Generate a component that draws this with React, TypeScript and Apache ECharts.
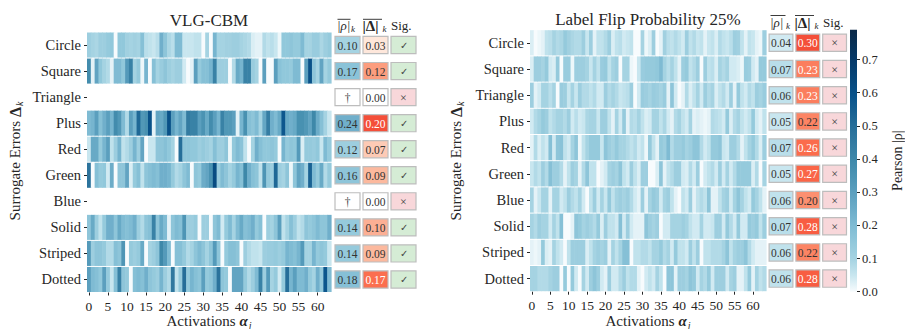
import React, { useEffect, useRef } from 'react';
import * as echarts from 'echarts';

// ---------- categories ----------
const ROWS = ['Circle', 'Square', 'Triangle', 'Plus', 'Red', 'Green', 'Blue', 'Solid', 'Striped', 'Dotted'];
const ACTIVATIONS = Array.from({ length: 64 }, (_, i) => String(i));
const CB_TICKS = [0, 0.1, 0.2, 0.3, 0.4, 0.5, 0.6, 0.7];
const CB_MAX = 0.79;

// ---------- VLG-CBM |rho| per activation ----------
const L_CIRCLE = [0.12,0.10,0.09,0.12,0.12,0.14,0.15,0.00,0.15,0.15, 0.11,0.10,0.11,0.10,0.18,0.07,0.06,0.05,0.07,0.24, 0.16,0.09,0.07,0.20,0.20,0.05,0.05,0.05,0.06,0.06, 0.00,0.10,0.00,0.22,0.10,0.10,0.11,0.11,0.12,0.12, 0.10,0.09,0.08,0.03,0.02,0.02,0.08,0.06,0.07,0.05, 0.01,0.15,0.15,0.16,0.14,0.14,0.20,0.10,0.10,0.13, 0.13,0.09,0.12,0.14];
const L_SQUARE = [0.38,0.02,0.28,0.15,0.10,0.08,0.02,0.20,0.20,0.15, 0.32,0.42,0.10,0.14,0.01,0.22,0.00,0.18,0.10,0.13, 0.16,0.12,0.10,0.12,0.12,0.04,0.00,0.02,0.30,0.14, 0.18,0.18,0.22,0.42,0.12,0.12,0.12,0.00,0.08,0.26, 0.22,0.42,0.42,0.13,0.10,0.00,0.30,0.00,0.00,0.30, 0.17,0.15,0.15,0.14,0.20,0.20,0.00,0.30,0.60,0.16, 0.10,0.28,0.10,0.14];
const L_TRIANGLE = null;
const L_PLUS = [0.20,0.22,0.30,0.18,0.24,0.30,0.22,0.38,0.33,0.20, 0.08,0.30,0.22,0.52,0.33,0.36,0.60,0.02,0.28,0.26, 0.33,0.60,0.30,0.22,0.28,0.20,0.45,0.42,0.42,0.30, 0.35,0.26,0.38,0.30,0.22,0.42,0.33,0.33,0.30,0.02, 0.22,0.36,0.18,0.16,0.20,0.10,0.27,0.44,0.24,0.20, 0.26,0.58,0.26,0.24,0.26,0.36,0.36,0.33,0.28,0.40, 0.25,0.18,0.10,0.05];
const L_RED = [0.05,0.26,0.26,0.14,0.22,0.30,0.06,0.12,0.22,0.06, 0.08,0.12,0.22,0.12,0.28,0.00,0.05,0.05,0.16,0.16, 0.18,0.15,0.10,0.00,0.50,0.16,0.16,0.15,0.15,0.12, 0.14,0.12,0.10,0.18,0.12,0.12,0.16,0.01,0.15,0.20, 0.17,0.06,0.00,0.10,0.24,0.18,0.15,0.15,0.16,0.14, 0.00,0.22,0.14,0.16,0.15,0.32,0.03,0.14,0.14,0.13, 0.15,0.05,0.20,0.14];
const L_GREEN = [0.48,0.00,0.18,0.14,0.15,0.04,0.25,0.00,0.16,0.16, 0.28,0.03,0.14,0.18,0.06,0.16,0.18,0.20,0.18,0.24, 0.24,0.22,0.14,0.08,0.10,0.16,0.20,0.00,0.16,0.14, 0.25,0.28,0.35,0.62,0.13,0.20,0.16,0.10,0.14,0.22, 0.18,0.40,0.24,0.18,0.16,0.06,0.34,0.14,0.12,0.52, 0.12,0.10,0.16,0.01,0.16,0.28,0.24,0.10,0.54,0.20, 0.14,0.26,0.08,0.14];
const L_BLUE = null;
const L_SOLID = [0.16,0.26,0.12,0.06,0.14,0.24,0.24,0.16,0.26,0.20, 0.18,0.20,0.24,0.12,0.08,0.16,0.18,0.42,0.16,0.26, 0.20,0.02,0.16,0.20,0.18,0.34,0.12,0.12,0.14,0.00, 0.12,0.12,0.00,0.16,0.20,0.04,0.14,0.20,0.10,0.20, 0.26,0.18,0.20,0.24,0.14,0.18,0.00,0.12,0.10,0.16, 0.30,0.06,0.10,0.18,0.12,0.06,0.08,0.16,0.14,0.16, 0.20,0.16,0.16,0.24];
const L_STRIPED = [0.32,0.12,0.16,0.16,0.14,0.08,0.08,0.18,0.16,0.34, 0.00,0.14,0.12,0.14,0.26,0.00,0.10,0.12,0.16,0.40, 0.32,0.20,0.00,0.18,0.18,0.14,0.08,0.10,0.16,0.20, 0.16,0.10,0.16,0.32,0.16,0.00,0.14,0.18,0.18,0.16, 0.00,0.12,0.08,0.06,0.06,0.05,0.12,0.13,0.13,0.14, 0.12,0.14,0.22,0.20,0.18,0.22,0.32,0.10,0.10,0.22, 0.14,0.16,0.14,0.05];
const L_DOTTED = [0.30,0.20,0.18,0.15,0.30,0.14,0.05,0.18,0.42,0.16, 0.14,0.00,0.18,0.20,0.18,0.24,0.16,0.14,0.12,0.22, 0.12,0.08,0.46,0.06,0.14,0.50,0.14,0.22,0.18,0.16, 0.30,0.14,0.16,0.24,0.48,0.16,0.14,0.00,0.28,0.28, 0.28,0.14,0.08,0.12,0.20,0.42,0.12,0.32,0.10,0.14, 0.04,0.14,0.50,0.22,0.30,0.20,0.20,0.24,0.14,0.10, 0.24,0.14,0.58,0.20];
const LEFT_ROWS = [L_CIRCLE, L_SQUARE, L_TRIANGLE, L_PLUS, L_RED, L_GREEN, L_BLUE, L_SOLID, L_STRIPED, L_DOTTED];

// ---------- Label Flip 25% |rho| per activation ----------
const R_CIRCLE = [0.03,0.00,0.01,0.02,0.06,0.07,0.10,0.08,0.09,0.14, 0.11,0.09,0.08,0.08,0.12,0.05,0.12,0.02,0.06,0.06, 0.08,0.12,0.03,0.06,0.07,0.04,0.05,0.06,0.00,0.00, 0.10,0.01,0.03,0.12,0.00,0.02,0.11,0.07,0.06,0.08, 0.06,0.04,0.12,0.06,0.08,0.05,0.06,0.02,0.05,0.06, 0.03,0.08,0.06,0.05,0.07,0.12,0.11,0.06,0.02,0.06, 0.05,0.02,0.01,0.12];
const R_SQUARE = [0.03,0.12,0.12,0.10,0.14,0.04,0.03,0.14,0.00,0.13, 0.13,0.01,0.12,0.12,0.12,0.10,0.05,0.10,0.06,0.13, 0.14,0.06,0.10,0.12,0.00,0.10,0.10,0.01,0.00,0.05, 0.13,0.14,0.14,0.14,0.15,0.20,0.10,0.07,0.10,0.06, 0.02,0.12,0.14,0.06,0.08,0.12,0.00,0.12,0.06,0.07, 0.03,0.10,0.08,0.10,0.04,0.04,0.03,0.01,0.13,0.12, 0.04,0.02,0.14,0.14];
const R_TRIANGLE = [0.12,0.02,0.04,0.10,0.10,0.07,0.10,0.00,0.13,0.12, 0.05,0.10,0.05,0.12,0.08,0.08,0.06,0.08,0.04,0.04, 0.12,0.08,0.10,0.08,0.05,0.06,0.07,0.12,0.00,0.04, 0.13,0.12,0.10,0.13,0.12,0.10,0.13,0.02,0.16,0.04, 0.00,0.02,0.08,0.03,0.06,0.10,0.04,0.12,0.08,0.10, 0.03,0.06,0.08,0.04,0.12,0.02,0.14,0.06,0.04,0.08, 0.06,0.12,0.10,0.13];
const R_PLUS = [0.04,0.08,0.10,0.14,0.12,0.06,0.08,0.10,0.10,0.08, 0.12,0.04,0.07,0.04,0.05,0.09,0.10,0.10,0.05,0.12, 0.12,0.06,0.02,0.10,0.04,0.14,0.02,0.08,0.07,0.10, 0.06,0.03,0.04,0.10,0.10,0.06,0.09,0.04,0.02,0.08, 0.10,0.06,0.04,0.10,0.02,0.03,0.02,0.01,0.02,0.08, 0.07,0.06,0.04,0.14,0.03,0.08,0.10,0.06,0.04,0.06, 0.14,0.04,0.02,0.06];
const R_RED = [0.02,0.08,0.03,0.06,0.04,0.18,0.04,0.16,0.17,0.06, 0.04,0.10,0.16,0.01,0.06,0.10,0.14,0.14,0.14,0.05, 0.16,0.12,0.10,0.14,0.10,0.10,0.08,0.06,0.08,0.04, 0.06,0.01,0.14,0.06,0.02,0.14,0.12,0.20,0.08,0.12, 0.12,0.14,0.10,0.12,0.16,0.16,0.08,0.04,0.06,0.14, 0.14,0.16,0.05,0.04,0.12,0.12,0.08,0.02,0.06,0.10, 0.14,0.08,0.03,0.12];
const R_GREEN = [0.05,0.08,0.06,0.12,0.08,0.18,0.12,0.12,0.08,0.02, 0.06,0.12,0.10,0.02,0.08,0.16,0.06,0.06,0.00,0.02, 0.04,0.10,0.12,0.10,0.16,0.06,0.04,0.12,0.06,0.03, 0.12,0.12,0.00,0.00,0.03,0.16,0.02,0.06,0.08,0.12, 0.12,0.04,0.03,0.08,0.04,0.12,0.00,0.04,0.06,0.08, 0.04,0.12,0.04,0.10,0.04,0.08,0.14,0.14,0.14,0.14, 0.03,0.08,0.00,0.10];
const R_BLUE = [0.10,0.02,0.05,0.10,0.10,0.02,0.10,0.10,0.04,0.06, 0.12,0.08,0.06,0.10,0.04,0.00,0.06,0.12,0.04,0.10, 0.05,0.14,0.06,0.10,0.12,0.10,0.12,0.08,0.04,0.02, 0.12,0.02,0.10,0.14,0.12,0.04,0.10,0.12,0.06,0.02, 0.00,0.06,0.04,0.12,0.02,0.06,0.08,0.06,0.16,0.02, 0.02,0.06,0.10,0.12,0.04,0.10,0.16,0.10,0.06,0.04, 0.14,0.10,0.06,0.02];
const R_SOLID = [0.10,0.08,0.12,0.10,0.10,0.04,0.10,0.06,0.18,0.00, 0.00,0.02,0.16,0.14,0.10,0.12,0.10,0.08,0.14,0.03, 0.12,0.06,0.06,0.04,0.18,0.04,0.12,0.04,0.02,0.02, 0.02,0.16,0.12,0.10,0.12,0.00,0.04,0.04,0.10,0.10, 0.10,0.12,0.10,0.06,0.04,0.04,0.10,0.04,0.04,0.05, 0.12,0.12,0.04,0.14,0.08,0.04,0.14,0.04,0.04,0.14, 0.12,0.14,0.06,0.12];
const R_STRIPED = [0.02,0.01,0.02,0.14,0.03,0.02,0.10,0.06,0.04,0.00, 0.06,0.12,0.12,0.12,0.12,0.03,0.06,0.10,0.12,0.10, 0.12,0.02,0.10,0.06,0.10,0.18,0.18,0.00,0.06,0.06, 0.08,0.08,0.06,0.10,0.10,0.14,0.08,0.10,0.04,0.14, 0.06,0.06,0.04,0.12,0.06,0.12,0.00,0.06,0.06,0.08, 0.08,0.08,0.10,0.16,0.06,0.10,0.12,0.12,0.16,0.08, 0.04,0.02,0.02,0.02];
const R_DOTTED = [0.10,0.10,0.08,0.08,0.08,0.10,0.12,0.12,0.00,0.14, 0.00,0.14,0.04,0.00,0.10,0.04,0.12,0.16,0.12,0.04, 0.02,0.12,0.04,0.04,0.08,0.12,0.06,0.08,0.08,0.02, 0.00,0.04,0.06,0.04,0.10,0.06,0.00,0.16,0.16,0.02, 0.12,0.12,0.10,0.16,0.14,0.04,0.10,0.08,0.14,0.04, 0.12,0.12,0.12,0.04,0.10,0.12,0.02,0.02,0.06,0.14, 0.02,0.10,0.06,0.08];
const RIGHT_ROWS = [R_CIRCLE, R_SQUARE, R_TRIANGLE, R_PLUS, R_RED, R_GREEN, R_BLUE, R_SOLID, R_STRIPED, R_DOTTED];

// ---------- summary columns ----------
const L_RHO_MEAN = [0.10, 0.17, null, 0.24, 0.12, 0.16, null, 0.14, 0.14, 0.18];
const L_DELTA_MEAN = [0.03, 0.12, 0.00, 0.20, 0.07, 0.09, 0.00, 0.10, 0.09, 0.17];
const L_SIG = [1, 1, 0, 1, 1, 1, 0, 1, 1, 1];
const R_RHO_MEAN = [0.04, 0.07, 0.06, 0.05, 0.07, 0.05, 0.06, 0.07, 0.06, 0.06];
const R_DELTA_MEAN = [0.30, 0.23, 0.23, 0.22, 0.26, 0.27, 0.20, 0.28, 0.22, 0.28];
const R_SIG = [0, 0, 0, 0, 0, 0, 0, 0, 0, 0];

// ---------- styles ----------
const FONT = "'Liberation Serif', 'DejaVu Serif', serif";
const TXT = '#262626';
const BLUES = ['#f7fbfd','#c8e6ef','#a5d3e2','#92c8db','#80bcd4','#6dadc9','#5ca0bf','#4c94b4','#3f89aa','#347ca2','#28709a','#186192','#09538b','#07477a','#063b6b','#083259','#0b2947'];
const REDS = ['#fff5f0','#fee0d2','#fcbba1','#fc9272','#fb6a4a','#ef3b2c','#cb181d','#a50f15','#67000d'];

function heatData(rows: (number[] | null)[]) {
  const d: number[][] = [];
  rows.forEach((row, r) => {
    if (!row) return;
    row.forEach((v, c) => d.push([c, r, v]));
  });
  return d;
}

const heatRender = (_p: any, api: any) => {
  const p = api.coord([api.value(0), api.value(1)]);
  const s = api.size([1, 1]);
  return {
    type: 'rect',
    shape: { x: p[0] - s[0] / 2, y: p[1] - s[1] / 2 + 0.5, width: s[0] + 0.6, height: s[1] - 1 },
    style: { fill: api.visual('color') },
  };
};

function cellBox(api: any) {
  const p = api.coord([api.value(0), api.value(1)]);
  const s = api.size([1, 1]);
  const w = s[0] - 3;
  const h = s[1] * 0.66;
  return { x: p[0] - w / 2, y: p[1] - h / 2, w, h, cx: p[0], cy: p[1] };
}

function cell(b: any, fill: string, text: string, color: string, size = 11.5) {
  return {
    type: 'group',
    children: [
      { type: 'rect', shape: { x: b.x, y: b.y, width: b.w, height: b.h }, style: { fill, stroke: '#bdbdbd', lineWidth: 1.2 } },
      { type: 'text', style: { text, x: b.cx, y: b.cy + 0.5, align: 'center', verticalAlign: 'middle', fill: color, fontSize: size, fontFamily: FONT } },
    ],
  };
}

const rhoRender = (src: (number | null)[]) => (params: any, api: any) => {
  const b = cellBox(api);
  const raw = src[params.dataIndex];
  if (raw === null) return cell(b, '#ffffff', '†', '#444');
  return cell(b, api.visual('color'), raw.toFixed(2), '#333');
};
const deltaRender = (src: number[], vmax: number) => (params: any, api: any) => {
  const b = cellBox(api);
  const v = src[params.dataIndex];
  return cell(b, v === 0 ? '#ffffff' : api.visual('color'), v.toFixed(2), v / vmax > 0.43 ? '#ffffff' : '#333');
};
const sigRender = (src: number[]) => (params: any, api: any) => {
  const b = cellBox(api);
  const v = src[params.dataIndex];
  return cell(b, v ? '#d5ecd5' : '#f8d7da', v ? '✓' : '×', '#444', v ? 10 : 12);
};

const L_DMAX = Math.max(...L_DELTA_MEAN) * 1.75;
const R_DMAX = Math.max(...R_DELTA_MEAN) * 1.75;

function header(xr: number, xd: number, xs: number, yc: number, ol: number, wr: number, wd: number) {
  const t = (text: string, x: number, y: number, extra: any = {}) => ({
    type: 'text', x, y, style: { text, fill: TXT, fontFamily: FONT, fontSize: 13, align: 'left', verticalAlign: 'middle', ...extra },
  });
  const line = (x1: number, x2: number) => ({ type: 'line', shape: { x1, y1: ol, x2, y2: ol }, style: { stroke: TXT, lineWidth: 0.9 } });
  return [
    t('|ρ|', xr, yc, { fontStyle: 'italic' }),
    line(xr + 0.5, xr + wr),
    t('k', xr + wr + 0.5, yc + 3.5, { fontStyle: 'italic', fontSize: 9 }),
    t('|Δ|', xd, yc, { fontWeight: 'bold', fontSize: 15 }),
    line(xd + 0.5, xd + wd),
    t('k', xd + wd + 0.5, yc + 3.5, { fontStyle: 'italic', fontSize: 9 }),
    t('Sig.', xs, yc, {}),
  ];
}

function yTitle(x: number) {
  return {
    type: 'text', x, y: 161, rotation: Math.PI / 2,
    style: {
      text: 'Surrogate Errors {d|Δ}{k|k}', align: 'center', verticalAlign: 'middle', fill: TXT, fontFamily: FONT, fontSize: 15,
      rich: {
        d: { fontWeight: 'bold', fontSize: 16, fontFamily: FONT, fill: TXT },
        k: { fontStyle: 'italic', fontSize: 10, fontFamily: FONT, fill: TXT, padding: [8, 0, 0, 1] },
      },
    },
  };
}
function xTitle(x: number) {
  return {
    type: 'text', x, y: 321,
    style: {
      text: 'Activations {a|α}{j|j}', align: 'center', verticalAlign: 'middle', fill: TXT, fontFamily: FONT, fontSize: 15,
      rich: {
        a: { fontWeight: 'bold', fontStyle: 'italic', fontSize: 15, fontFamily: FONT, fill: TXT },
        j: { fontStyle: 'italic', fontSize: 10, fontFamily: FONT, fill: TXT, padding: [8, 0, 0, 1] },
      },
    },
  };
}

const heatXAxis = (gridIndex: number) => ({
  type: 'category', gridIndex, data: ACTIVATIONS,
  axisLine: { show: false },
  axisTick: { show: true, alignWithLabel: true, length: 3, interval: (i: number) => i % 5 === 0, lineStyle: { color: TXT } },
  axisLabel: { interval: (i: number) => i % 5 === 0, margin: 7, fontSize: 13.5, fontFamily: FONT, color: TXT },
});
const heatYAxis = (gridIndex: number) => ({
  type: 'category', gridIndex, data: ROWS, inverse: true,
  axisLine: { show: false },
  axisTick: { show: true, alignWithLabel: true, length: 3, lineStyle: { color: TXT } },
  axisLabel: { margin: 6, fontSize: 14.5, fontFamily: FONT, color: TXT },
});
const hiddenCat = (gridIndex: number, data: string[], inverse = false) => ({ type: 'category', gridIndex, data, inverse, show: false });

export default function App() {
  const ref = useRef<HTMLDivElement>(null);
  useEffect(() => {
    const chart = echarts.init(ref.current!, null, { renderer: 'svg' });
    const cbStops = BLUES.map((c, i) => ({ offset: i / (BLUES.length - 1), color: c }));
    const option: any = {
      animation: false,
      backgroundColor: '#ffffff',
      grid: [
        { left: 87, top: 32, width: 244, height: 260.5 },
        { left: 333.5, top: 32, width: 84, height: 260.5 },
        { left: 530, top: 29.7, width: 236, height: 262 },
        { left: 767.6, top: 29.7, width: 80.4, height: 262 },
        { left: 850, top: 29.7, width: 12, height: 262 },
      ],
      xAxis: [
        heatXAxis(0),
        hiddenCat(1, ['rho', 'delta', 'sig']),
        heatXAxis(2),
        hiddenCat(3, ['rho', 'delta', 'sig']),
        hiddenCat(4, ['cb']),
      ],
      yAxis: [
        heatYAxis(0),
        hiddenCat(1, ROWS, true),
        heatYAxis(2),
        hiddenCat(3, ROWS, true),
        {
          type: 'value', gridIndex: 4, min: 0, max: CB_MAX, position: 'right',
          splitLine: { show: false }, axisLine: { show: false },
          axisTick: { show: true, length: 3, customValues: CB_TICKS, lineStyle: { color: TXT } },
          axisLabel: { customValues: CB_TICKS, margin: 5, fontSize: 12.5, fontFamily: FONT, color: TXT, formatter: (v: number) => (v > 0.75 ? '' : v.toFixed(1)) },
          name: 'Pearson |ρ|', nameLocation: 'middle', nameRotate: 90, nameGap: 33,
          nameTextStyle: { fontSize: 14, fontFamily: FONT, color: TXT },
        },
      ],
      visualMap: [
        { type: 'continuous', show: false, min: 0, max: CB_MAX, dimension: 2, seriesIndex: [0, 1, 2, 3], inRange: { color: BLUES } },
        { type: 'continuous', show: false, min: 0, max: L_DMAX, dimension: 2, seriesIndex: [4], inRange: { color: REDS } },
        { type: 'continuous', show: false, min: 0, max: R_DMAX, dimension: 2, seriesIndex: [5], inRange: { color: REDS } },
      ],
      series: [
        { type: 'custom', xAxisIndex: 0, yAxisIndex: 0, data: heatData(LEFT_ROWS), encode: { x: 0, y: 1 }, renderItem: heatRender },
        { type: 'custom', xAxisIndex: 2, yAxisIndex: 2, data: heatData(RIGHT_ROWS), encode: { x: 0, y: 1 }, renderItem: heatRender },
        { type: 'custom', xAxisIndex: 1, yAxisIndex: 1, data: L_RHO_MEAN.map((v, r) => [0, r, v === null ? 0 : v]), encode: { x: 0, y: 1 }, renderItem: rhoRender(L_RHO_MEAN) },
        { type: 'custom', xAxisIndex: 3, yAxisIndex: 3, data: R_RHO_MEAN.map((v, r) => [0, r, v === null ? 0 : v]), encode: { x: 0, y: 1 }, renderItem: rhoRender(R_RHO_MEAN) },
        { type: 'custom', xAxisIndex: 1, yAxisIndex: 1, data: L_DELTA_MEAN.map((v, r) => [1, r, v]), encode: { x: 0, y: 1 }, renderItem: deltaRender(L_DELTA_MEAN, L_DMAX) },
        { type: 'custom', xAxisIndex: 3, yAxisIndex: 3, data: R_DELTA_MEAN.map((v, r) => [1, r, v]), encode: { x: 0, y: 1 }, renderItem: deltaRender(R_DELTA_MEAN, R_DMAX) },
        { type: 'custom', xAxisIndex: 1, yAxisIndex: 1, data: L_SIG.map((v, r) => [2, r, v]), encode: { x: 0, y: 1 }, renderItem: sigRender(L_SIG) },
        { type: 'custom', xAxisIndex: 3, yAxisIndex: 3, data: R_SIG.map((v, r) => [2, r, v]), encode: { x: 0, y: 1 }, renderItem: sigRender(R_SIG) },
        {
          type: 'custom', xAxisIndex: 4, yAxisIndex: 4, data: [[0, 0, CB_MAX]], encode: { x: 0, y: [1, 2] },
          renderItem: (_p: any, api: any) => {
            const a = api.coord([0, api.value(1)]);
            const b = api.coord([0, api.value(2)]);
            const w = api.size([1, 0])[0];
            return {
              type: 'rect',
              shape: { x: a[0] - w / 2, y: b[1], width: w, height: a[1] - b[1] },
              style: { fill: new echarts.graphic.LinearGradient(0, 1, 0, 0, cbStops) },
            };
          },
        },
      ],
      graphic: [
        { type: 'text', x: 209, y: 20, style: { text: 'VLG-CBM', fontSize: 17, fontFamily: FONT, fill: TXT, align: 'center', verticalAlign: 'middle' } },
        { type: 'text', x: 648, y: 19.5, style: { text: 'Label Flip Probability 25%', fontSize: 17, fontFamily: FONT, fill: TXT, align: 'center', verticalAlign: 'middle' } },
        yTitle(15),
        yTitle(456),
        xTitle(209),
        xTitle(648),
        ...header(337, 362.5, 391, 25.8, 19.3, 13.5, 19.5),
        ...header(770, 794.5, 823, 22.8, 15.5, 15.5, 19.5),
      ],
    };
    chart.setOption(option);
    return () => chart.dispose();
  }, []);
  return <div ref={ref} style={{ position: 'fixed', left: 0, top: 0, width: 905, height: 329 }} />;
}
